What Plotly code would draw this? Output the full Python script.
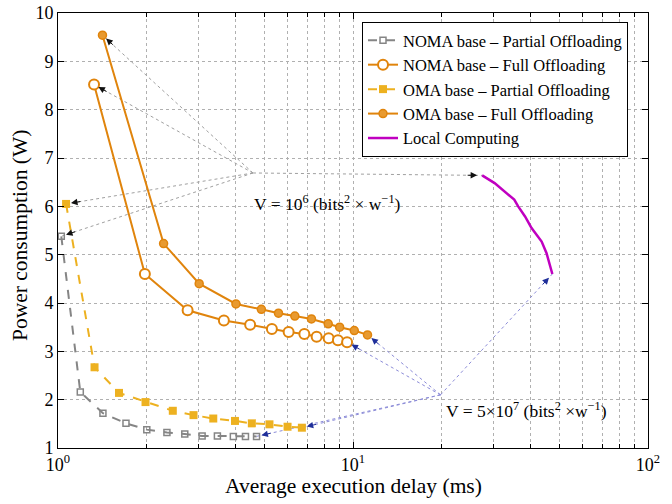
import math
import plotly.graph_objects as go

# ---------------- data ----------------
noma_partial_x = [1.026, 1.19, 1.42, 1.70, 2.00, 2.34, 2.69, 3.08, 3.47, 3.93, 4.32, 4.71]
noma_partial_y = [5.38, 2.16, 1.72, 1.51, 1.38, 1.32, 1.29, 1.25, 1.25, 1.24, 1.24, 1.24]

noma_full_x = [1.325, 1.97, 2.75, 3.65, 4.48, 5.31, 6.05, 6.84, 7.53, 8.27, 8.89, 9.55]
noma_full_y = [8.52, 4.60, 3.85, 3.64, 3.55, 3.46, 3.40, 3.36, 3.30, 3.27, 3.23, 3.19]

oma_partial_x = [1.065, 1.33, 1.61, 1.98, 2.45, 2.88, 3.36, 3.98, 4.54, 5.21, 6.00, 6.71]
oma_partial_y = [6.05, 2.67, 2.14, 1.95, 1.77, 1.68, 1.61, 1.56, 1.51, 1.49, 1.44, 1.42]

oma_full_x = [1.415, 2.28, 3.01, 4.01, 4.89, 5.59, 6.35, 7.23, 8.24, 9.01, 10.1, 11.2]
oma_full_y = [9.54, 5.23, 4.40, 3.98, 3.87, 3.79, 3.73, 3.67, 3.57, 3.50, 3.43, 3.34]

local_x = [27.4, 30.2, 35.2, 36.3, 38.3, 40.3, 43.6, 45.3, 47.4]
local_y = [6.64, 6.48, 6.14, 6.00, 5.79, 5.55, 5.27, 5.03, 4.60]

x_tick_vals = [1, 10, 100]
x_tick_text = ["10<sup>0</sup>", "10<sup>1</sup>", "10<sup>2</sup>"]
x_minor_vals = [2, 3, 4, 5, 6, 7, 8, 9, 20, 30, 40, 50, 60, 70, 80, 90]
y_tick_vals = [1, 2, 3, 4, 5, 6, 7, 8, 9, 10]

x_title = "Average execution delay (ms)"
y_title = "Power consumption (W)"

v1_label = "V = 10<sup>6</sup> (bits<sup>2</sup> × w<sup>−1</sup>)"
v1_vertex = (4.58, 6.69)
v1_text_pos = (4.55, 6.07)
v2_label = "V = 5×10<sup>7</sup> (bits<sup>2</sup> ×w<sup>−1</sup>)"
v2_vertex = (19.8, 2.10)
v2_text_pos = (20.3, 1.79)

# ---------------- style ----------------
FONT = "Liberation Serif, Times New Roman, serif"
ORANGE = "#E0840C"
YELLOW = "#EDB120"
GRAY = "#858585"
MAGENTA = "#C000C0"
ML, MR, MT, MB = 58, 24, 13, 56
W, H = 672, 504
PW, PH = W - ML - MR, H - MT - MB
XR = (0, 2)
YR = (1, 10)

fig = go.Figure()


def first(xs, ys):
    return xs[0], ys[0]


def last(xs, ys):
    return xs[-1], ys[-1]


v1_targets = [first(noma_partial_x, noma_partial_y), first(noma_full_x, noma_full_y),
              first(oma_partial_x, oma_partial_y), first(oma_full_x, oma_full_y),
              first(local_x, local_y)]
v2_targets = [last(noma_partial_x, noma_partial_y), last(noma_full_x, noma_full_y),
              last(oma_partial_x, oma_partial_y), last(oma_full_x, oma_full_y),
              last(local_x, local_y)]


def to_px(x, y):
    px = (math.log10(x) - XR[0]) / (XR[1] - XR[0]) * PW
    py = (y - YR[0]) / (YR[1] - YR[0]) * PH
    return px, py


annotations = []


def add_pointer(vertex, targets, line_color, head_color):
    for tx, ty in targets:
        fig.add_trace(go.Scatter(x=[vertex[0], tx], y=[vertex[1], ty], mode="lines",
                                 line=dict(color=line_color, width=1, dash="dot"),
                                 showlegend=False, hoverinfo="skip"))
        vx, vy = to_px(*vertex)
        px, py = to_px(tx, ty)
        dx, dy = vx - px, vy - py
        n = math.hypot(dx, dy)
        L = 16
        annotations.append(dict(x=math.log10(tx), y=ty, xref="x", yref="y",
                                ax=dx / n * L, ay=-dy / n * L, showarrow=True,
                                arrowhead=2, arrowsize=1.3, arrowwidth=1,
                                arrowcolor=head_color, standoff=5, text=""))


add_pointer(v1_vertex, v1_targets, "#A0A0A0", "#111111")
add_pointer(v2_vertex, v2_targets, "#8C8CD8", "#1F2F9A")

fig.add_trace(go.Scatter(x=noma_partial_x, y=noma_partial_y, mode="lines+markers",
                         name="NOMA base – Partial Offloading",
                         line=dict(color=GRAY, width=2, dash="dash"),
                         marker=dict(symbol="square-open", size=6, color=GRAY, line=dict(width=1.5))))
fig.add_trace(go.Scatter(x=noma_full_x, y=noma_full_y, mode="lines+markers",
                         name="NOMA base – Full Offloading",
                         line=dict(color=ORANGE, width=2),
                         marker=dict(symbol="circle", size=10, color="white",
                                     line=dict(color=ORANGE, width=2))))
fig.add_trace(go.Scatter(x=oma_partial_x, y=oma_partial_y, mode="lines+markers",
                         name="OMA base – Partial Offloading",
                         line=dict(color=YELLOW, width=2, dash="dash"),
                         marker=dict(symbol="square", size=8, color=YELLOW)))
fig.add_trace(go.Scatter(x=oma_full_x, y=oma_full_y, mode="lines+markers",
                         name="OMA base – Full Offloading",
                         line=dict(color=ORANGE, width=2),
                         marker=dict(symbol="circle", size=8, color="#E89A30",
                                     line=dict(color=ORANGE, width=1.5))))
fig.add_trace(go.Scatter(x=local_x, y=local_y, mode="lines",
                         name="Local Computing",
                         line=dict(color=MAGENTA, width=2.5)))

annotations.append(dict(x=math.log10(v1_text_pos[0]), y=v1_text_pos[1], xref="x", yref="y",
                        text=v1_label, showarrow=False, xanchor="left", yanchor="middle",
                        font=dict(family=FONT, size=17.5, color="black")))
annotations.append(dict(x=math.log10(v2_text_pos[0]), y=v2_text_pos[1], xref="x", yref="y",
                        text=v2_label, showarrow=False, xanchor="left", yanchor="middle",
                        font=dict(family=FONT, size=17.5, color="black")))
# axis titles
annotations.append(dict(x=(20 - ML) / PW, y=1 - (236 - MT) / PH, xref="paper", yref="paper",
                        text=y_title, textangle=-90, showarrow=False,
                        xanchor="center", yanchor="middle",
                        font=dict(family=FONT, size=21.5, color="black")))
annotations.append(dict(x=0.5, y=1 - (486 - MT) / PH, xref="paper", yref="paper",
                        text=x_title, showarrow=False,
                        xanchor="center", yanchor="middle",
                        font=dict(family=FONT, size=21.5, color="black")))

grid = dict(showgrid=True, gridcolor="#B0B0B0", griddash="dot", gridwidth=1)

fig.update_layout(
    width=W, height=H,
    margin=dict(l=ML, r=MR, t=MT, b=MB, autoexpand=False),
    paper_bgcolor="white", plot_bgcolor="white",
    font=dict(family=FONT, size=18, color="black"),
    annotations=annotations,
    legend=dict(x=(362 - ML) / PW, y=1 - (22 - MT) / PH, xanchor="left", yanchor="top",
                bgcolor="white", bordercolor="black", borderwidth=1,
                font=dict(family=FONT, size=16.5), tracegroupgap=0, itemwidth=30),
    xaxis=dict(type="log", range=list(XR), tickvals=x_tick_vals, ticktext=x_tick_text,
               ticks="inside", ticklen=6, tickcolor="black", showline=True, linecolor="black",
               linewidth=1, mirror="ticks", zeroline=False, automargin=False,
               minor=dict(tickvals=x_minor_vals, ticks="inside", ticklen=4, tickcolor="black",
                          showgrid=True, gridcolor="#B0B0B0", griddash="dot"),
               **grid),
    yaxis=dict(range=list(YR), tickvals=y_tick_vals, ticks="inside", ticklen=6,
               tickcolor="black", showline=True, linecolor="black", linewidth=1,
               mirror="ticks", zeroline=False, automargin=False,
               **grid),
)

fig.write_html("out.html")
